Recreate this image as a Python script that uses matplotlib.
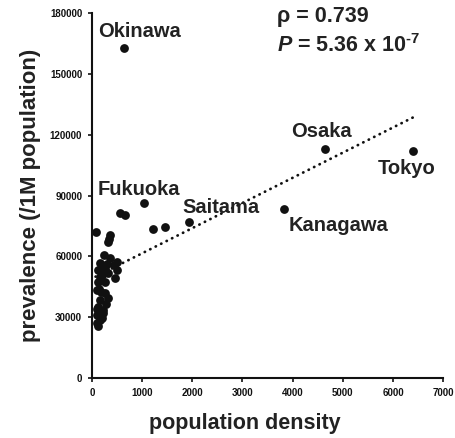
import matplotlib
matplotlib.use("Agg")
import matplotlib.pyplot as plt
import numpy as np

# --- Data ---
density = [637, 4655, 6400, 3830, 1932, 1460, 1222, 1036, 564, 664,
           73, 359, 325, 339, 245, 359, 492, 159, 126, 193,
           458, 325, 259, 126, 93, 259, 325, 159, 126, 226,
           93, 193, 93, 126, 505, 226, 200, 270, 230, 160,
           300, 150, 180, 290, 110, 160, 440]
prevalence = [163000, 113100, 112150, 83400, 76800, 74700, 73300, 86200, 81400, 80300,
              71900, 70600, 67300, 68700, 60700, 59000, 57000, 56600, 53300, 50800,
              49100, 51600, 47500, 47500, 43400, 41800, 39300, 38500, 35200, 33600,
              31100, 29400, 27000, 25800, 53300, 31900, 55000, 54000, 52000, 50000,
              56000, 44000, 42500, 36500, 34000, 28500, 55500]

# named prefectures: label, text anchor (x, y) in data units
labels = ["Okinawa", "Fukuoka", "Saitama", "Osaka", "Tokyo", "Kanagawa"]
label_x = [120, 120, 1795, 3968, 5703, 3928]
label_y = [168400, 90250, 81400, 118900, 100600, 72500]

x_ticks = list(range(0, 7001, 1000))
y_ticks = list(range(0, 180001, 30000))

bold_font = ["Liberation Sans", "DejaVu Sans"]
tick_font = ["Liberation Sans Narrow", "Liberation Sans", "DejaVu Sans"]

plt.rcParams["mathtext.fontset"] = "custom"
plt.rcParams["mathtext.rm"] = "Liberation Sans:bold"
plt.rcParams["mathtext.it"] = "Liberation Sans:italic:bold"
plt.rcParams["mathtext.bf"] = "Liberation Sans:bold"

fig = plt.figure(figsize=(4.55, 4.38), dpi=100)
ax = fig.add_axes([0.202, 0.137, 0.772, 0.833])

# trend line (linear fit), drawn under the points
coef = np.polyfit(density, prevalence, 1)
tx = np.array([min(density), max(density)])
ax.plot(tx, np.polyval(coef, tx), color="#111111", lw=2.0,
        linestyle=(0, (0.1, 2.1)), dash_capstyle="round", zorder=2)

ax.scatter(density, prevalence, s=40, color="#111111", zorder=3, linewidths=0)

for name, lx, ly in zip(labels, label_x, label_y):
    ax.text(lx, ly, name, fontsize=14.5, fontweight="bold", family=bold_font,
            color="#222222", ha="left", va="baseline")

ax.text(3689, 175600, "ρ = 0.739", fontsize=15.5, fontweight="bold",
        family=bold_font, color="#222222", ha="left", va="baseline")
ax.text(3689, 160800, r"$\mathit{P}$ = 5.36 x 10$^{\text{-7}}$", fontsize=15.5,
        fontweight="bold", family=bold_font, color="#222222", ha="left", va="baseline")

ax.set_xlim(0, 7000)
ax.set_ylim(0, 180000)
ax.set_xticks(x_ticks)
ax.set_yticks(y_ticks)
for lab in ax.get_xticklabels() + ax.get_yticklabels():
    lab.set_family(tick_font)
    lab.set_fontweight("bold")
    lab.set_fontsize(7)
ax.tick_params(axis="both", direction="out", length=3, width=1.2, pad=4, colors="#111111")

for side in ["top", "right"]:
    ax.spines[side].set_visible(False)
for side in ["left", "bottom"]:
    ax.spines[side].set_linewidth(1.5)
    ax.spines[side].set_color("#111111")

ax.set_xlabel("population density", fontsize=15.5, fontweight="bold",
              family=bold_font, color="#222222")
ax.xaxis.set_label_coords(0.436, -0.095)
ax.set_ylabel("prevalence (/1M population)", fontsize=16, fontweight="bold",
              family=bold_font, color="#222222", labelpad=6)

fig.savefig("out.png", dpi=100)
